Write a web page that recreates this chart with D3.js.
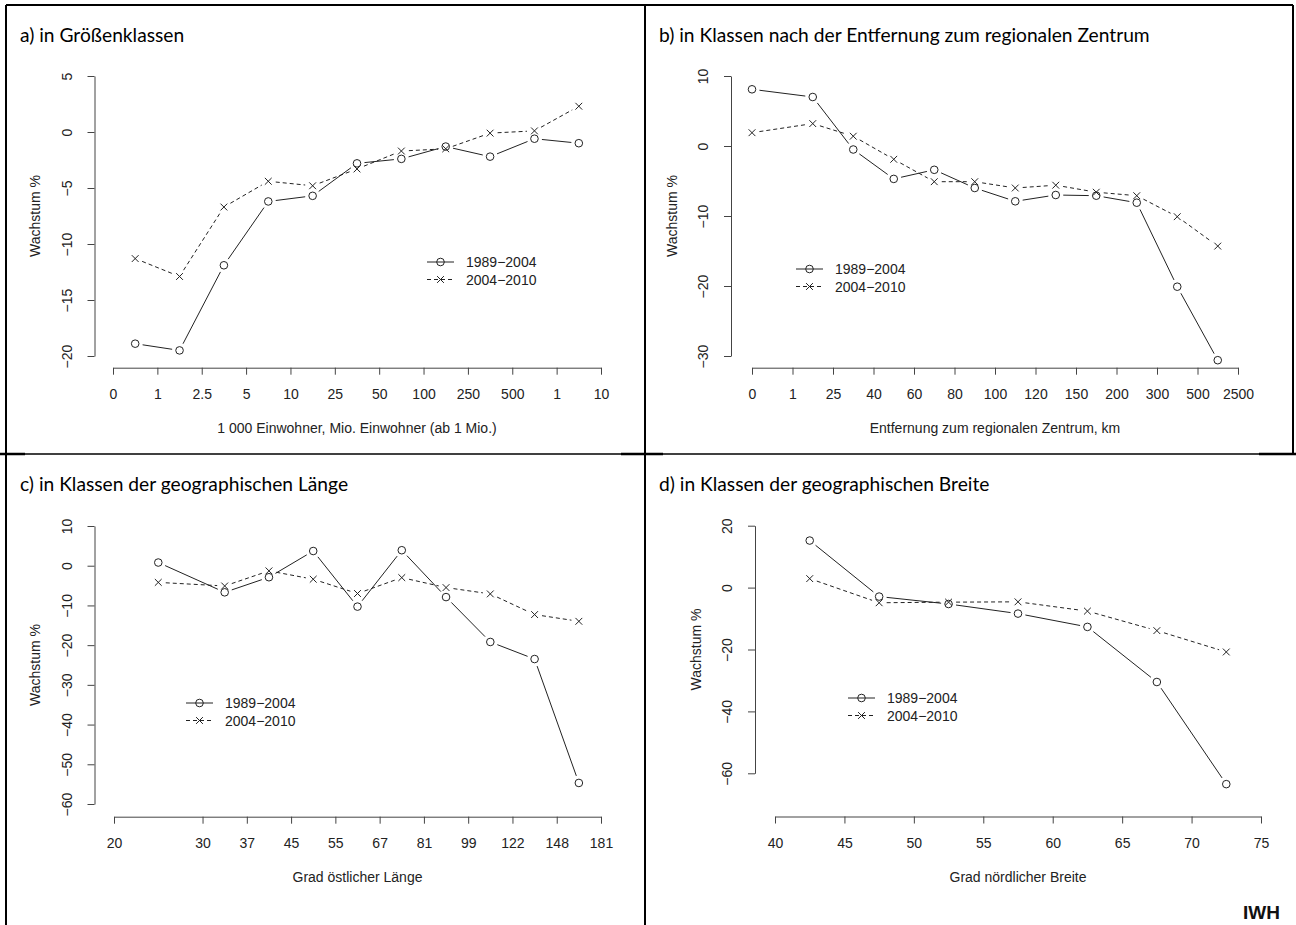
<!DOCTYPE html>
<html>
<head>
<meta charset="utf-8">
<script src="https://cdn.jsdelivr.net/npm/d3@7"></script>
<style>
  body { margin: 0; background: #fff; }
  .panel-title { font-family: Lato, "Open Sans", sans-serif; font-size: 18px; fill: #000; }
  .rtext, .axis text { font-family: "Liberation Sans", Arial, sans-serif; font-size: 14px; fill: #222; }
  .iwh { font-family: "Liberation Sans", Arial, sans-serif; font-size: 19px; font-weight: bold; fill: #111; }
</style>
</head>
<body>
<svg id="chart" width="1296" height="925"></svg>
<script>
const seriesLabels = ['1989\u22122004', '2004\u22122010'];
const yLabel = 'Wachstum %';

// a) Größenklassen
const aTitle = 'a) in Größenklassen';
const aXLabel = '1 000 Einwohner, Mio. Einwohner (ab 1 Mio.)';
const aTicks = ['0', '1', '2.5', '5', '10', '25', '50', '100', '250', '500', '1', '10'];
const aGrowth8904 = [-18.9, -19.5, -11.9, -6.2, -5.7, -2.8, -2.4, -1.3, -2.2, -0.6, -1.0];
const aGrowth0410 = [-11.3, -12.9, -6.7, -4.4, -4.8, -3.3, -1.7, -1.5, -0.1, 0.1, 2.3];
const aYTicks = [-20, -15, -10, -5, 0, 5];

// b) Entfernung zum regionalen Zentrum
const bTitle = 'b) in Klassen nach der Entfernung zum regionalen Zentrum';
const bXLabel = 'Entfernung zum regionalen Zentrum, km';
const bTicks = ['0', '1', '25', '40', '60', '80', '100', '120', '150', '200', '300', '500', '2500'];
const bGrowth8904 = [8.1, 7.0, -0.5, -4.7, -3.4, -6.0, -7.9, -7.0, -7.1, -8.1, -20.1, -30.6];
const bGrowth0410 = [1.9, 3.2, 1.4, -1.9, -5.1, -5.1, -6.0, -5.6, -6.6, -7.1, -10.1, -14.3];
const bYTicks = [-30, -20, -10, 0, 10];

// c) geographische Länge
const cTitle = 'c) in Klassen der geographischen Länge';
const cXLabel = 'Grad östlicher Länge';
const cTicks = ['20', '30', '37', '45', '55', '67', '81', '99', '122', '148', '181'];
const cGrowth8904 = [0.8, -6.7, -2.9, 3.7, -10.3, 3.9, -7.9, -19.2, -23.5, -54.7];
const cGrowth0410 = [-4.2, -5.1, -1.3, -3.4, -7.0, -3.0, -5.5, -7.1, -12.3, -14.0];
const cYTicks = [-60, -50, -40, -30, -20, -10, 0, 10];

// d) geographische Breite
const dTitle = 'd) in Klassen der geographischen Breite';
const dXLabel = 'Grad nördlicher Breite';
const dTicks = [40, 45, 50, 55, 60, 65, 70, 75];
const dGrowth8904 = [15.2, -2.9, -5.3, -8.4, -12.7, -30.5, -63.5];
const dGrowth0410 = [2.9, -4.9, -4.7, -4.6, -7.6, -13.9, -20.8];
const dYTicks = [-60, -40, -20, 0, 20];

const svg = d3.select('#chart');

// frame lines
const frame = svg.append('g').attr('stroke', '#000');
frame.append('line').attr('x1', 6).attr('x2', 1293).attr('y1', 5).attr('y2', 5).attr('stroke-width', 2);
frame.append('line').attr('x1', 6).attr('x2', 6).attr('y1', 5).attr('y2', 925).attr('stroke-width', 2);
frame.append('line').attr('x1', 1293).attr('x2', 1293).attr('y1', 5).attr('y2', 454).attr('stroke-width', 2);
frame.append('line').attr('x1', 645).attr('x2', 645).attr('y1', 5).attr('y2', 925).attr('stroke-width', 2);
frame.append('line').attr('x1', 0).attr('x2', 1296).attr('y1', 454).attr('y2', 454).attr('stroke-width', 1.3);
[[0, 25], [621, 663], [1259, 1296]].forEach(([x1, x2]) => {
  frame.append('line').attr('x1', x1).attr('x2', x2).attr('y1', 454).attr('y2', 454).attr('stroke-width', 2.5);
});

const idx = (arr) => arr.map((d, i) => i);

const panels = [
  {
    title: aTitle, xLabel: aXLabel, titleX: 20, titleY: 42,
    tickPos: idx(aTicks), tickLabels: aTicks,
    classes: d3.pairs(idx(aTicks)),
    xDomain: [0, aTicks.length - 1], xRange: [113, 601],
    yDomain: [-20, 5], yRange: [356, 76], yTicks: aYTicks,
    axisX: 94.5, axisY: 367.7,
    series: [aGrowth8904, aGrowth0410], legend: [427, 262]
  },
  {
    title: bTitle, xLabel: bXLabel, titleX: 659, titleY: 42,
    tickPos: idx(bTicks), tickLabels: bTicks,
    classes: [[0, 0]].concat(d3.pairs(idx(bTicks).slice(1))),
    xDomain: [0, bTicks.length - 1], xRange: [752, 1238],
    yDomain: [-30, 10], yRange: [356, 76], yTicks: bYTicks,
    axisX: 731, axisY: 367.7,
    series: [bGrowth8904, bGrowth0410], legend: [796, 269]
  },
  {
    title: cTitle, xLabel: cXLabel, titleX: 20, titleY: 491,
    tickPos: [0].concat(idx(cTicks).slice(1).map(i => i + 1)), tickLabels: cTicks,
    classes: null,
    xDomain: [0, cTicks.length], xRange: [114, 601],
    yDomain: [-60, 10], yRange: [804, 526], yTicks: cYTicks,
    axisX: 94.5, axisY: 816.7,
    series: [cGrowth8904, cGrowth0410], legend: [186, 703]
  },
  {
    title: dTitle, xLabel: dXLabel, titleX: 659, titleY: 491,
    tickPos: dTicks, tickLabels: dTicks.map(String),
    classes: d3.pairs(dTicks),
    xDomain: [40, 75], xRange: [775, 1261],
    yDomain: [-60, 20], yRange: [773.3, 525.7], yTicks: dYTicks,
    axisX: 755, axisY: 816.5,
    series: [dGrowth8904, dGrowth0410], legend: [848, 698]
  }
];
// c: class bounds follow the tick positions
panels[2].classes = d3.pairs(panels[2].tickPos);

const gap = 7.5;
const dash = '4,3';
const lineColor = '#222';

function marker(g, s, cx, cy) {
  if (s === 0) {
    g.append('circle').attr('cx', cx).attr('cy', cy).attr('r', 3.8)
      .attr('fill', 'none').attr('stroke', lineColor).attr('stroke-width', 1);
  } else {
    const r = 3.4;
    g.append('path')
      .attr('d', `M${cx - r},${cy - r}L${cx + r},${cy + r}M${cx - r},${cy + r}L${cx + r},${cy - r}`)
      .attr('stroke', lineColor).attr('stroke-width', 1).attr('fill', 'none');
  }
}

function drawPanel(p) {
  const x = d3.scaleLinear().domain(p.xDomain).range(p.xRange);
  const y = d3.scaleLinear().domain(p.yDomain).range(p.yRange);
  const g = svg.append('g');

  g.append('text').attr('class', 'panel-title')
    .attr('x', p.titleX).attr('y', p.titleY).text(p.title);

  // bottom axis
  const xAxis = d3.axisBottom(x)
    .tickValues(p.tickPos)
    .tickFormat((d, i) => p.tickLabels[i])
    .tickSize(7).tickSizeOuter(0).tickPadding(14.5);
  g.append('g').attr('class', 'axis').attr('color', '#444')
    .attr('transform', `translate(0,${p.axisY})`)
    .call(xAxis);

  // left axis, labels turned like R
  const yAxis = d3.axisLeft(y).tickValues(p.yTicks).tickSize(7).tickSizeOuter(0)
    .tickFormat(d => d < 0 ? '\u2212' + Math.abs(d) : String(d));
  g.append('g').attr('class', 'axis').attr('color', '#444')
    .attr('transform', `translate(${p.axisX},0)`)
    .call(yAxis)
    .selectAll('.tick text')
    .attr('x', 0).attr('dy', null).attr('y', -23)
    .attr('text-anchor', 'middle').attr('transform', 'rotate(-90)');

  // axis titles
  g.append('text').attr('class', 'rtext').attr('text-anchor', 'middle')
    .attr('x', (p.xRange[0] + p.xRange[1]) / 2).attr('y', p.axisY + 65.3)
    .text(p.xLabel);
  g.append('text').attr('class', 'rtext').attr('text-anchor', 'middle')
    .attr('transform', `translate(${p.axisX - 54.5},${(p.yRange[0] + p.yRange[1]) / 2}) rotate(-90)`)
    .text(yLabel);

  // series: lines with gaps around the points (R type "b")
  const centers = p.classes.map(c => (c[0] + c[1]) / 2);
  p.series.forEach((vals, s) => {
    const pts = vals.map((v, i) => [x(centers[i]), y(v)]);
    d3.pairs(pts).forEach(([a, b]) => {
      const dx = b[0] - a[0], dy = b[1] - a[1];
      const len = Math.hypot(dx, dy);
      if (len <= 2 * gap) return;
      const ux = dx / len, uy = dy / len;
      g.append('line')
        .attr('x1', a[0] + ux * gap).attr('y1', a[1] + uy * gap)
        .attr('x2', b[0] - ux * gap).attr('y2', b[1] - uy * gap)
        .attr('stroke', lineColor).attr('stroke-width', 1)
        .attr('stroke-dasharray', s === 1 ? dash : null);
    });
    pts.forEach(pt => marker(g, s, pt[0], pt[1]));
  });

  // legend
  const [lx, ly] = p.legend;
  seriesLabels.forEach((lab, s) => {
    const yy = ly + s * 17.5;
    g.append('line').attr('x1', lx).attr('x2', lx + 27).attr('y1', yy).attr('y2', yy)
      .attr('stroke', lineColor).attr('stroke-width', 1)
      .attr('stroke-dasharray', s === 1 ? dash : null);
    marker(g, s, lx + 13.5, yy);
    g.append('text').attr('class', 'rtext').attr('x', lx + 39).attr('y', yy + 5).text(lab);
  });
}

panels.forEach(drawPanel);

// fit title size to the width of the widest title in the reference
const titles = svg.selectAll('.panel-title');
const bNode = titles.filter(function () { return this.textContent === bTitle; }).node();
const fs = 18 * 491 / bNode.getComputedTextLength();
titles.style('font-size', fs + 'px');

svg.append('text').attr('class', 'iwh').attr('text-anchor', 'end')
  .attr('x', 1280).attr('y', 919).text('IWH');
</script>
</body>
</html>
